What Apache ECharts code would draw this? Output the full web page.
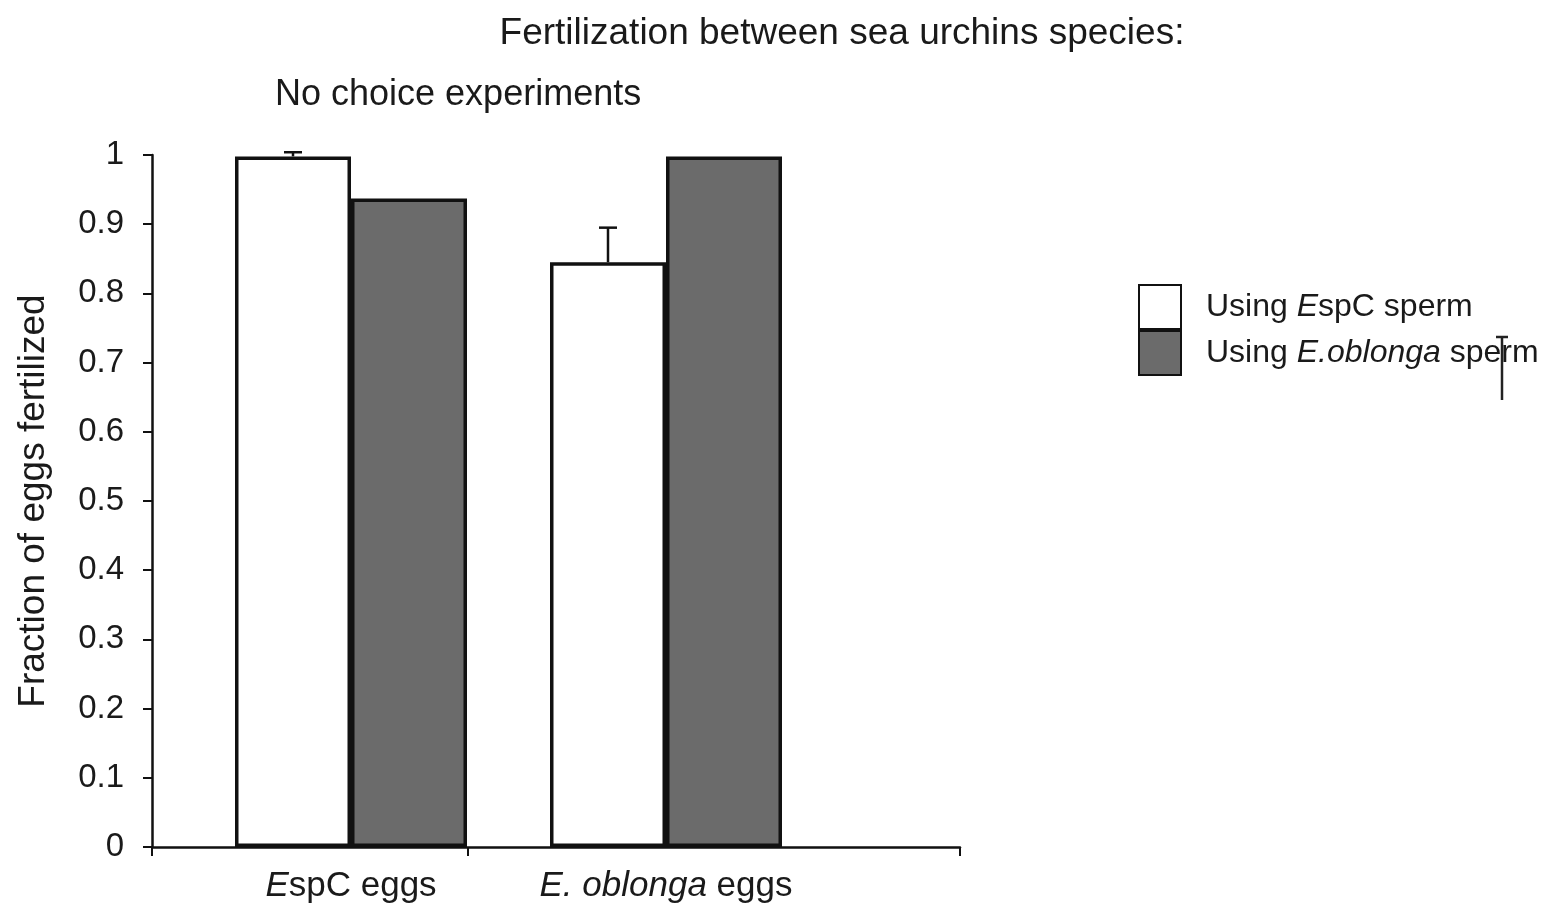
<!DOCTYPE html>
<html>
<head>
<meta charset="utf-8">
<script src="https://cdn.jsdelivr.net/npm/echarts@6/dist/echarts.min.js"></script>
<style>
html,body{margin:0;padding:0;background:#fff;}
#chart{width:1554px;height:919px;}
</style>
</head>
<body>
<div id="chart"></div>
<script>
// ---- data ----
const categories = ['EspC eggs', 'E. oblonga eggs'];
const seriesNames = ['Using EspC sperm', 'Using E.oblonga sperm'];
const espcSperm = [0.998, 0.845];
const oblongaSperm = [0.937, 0.998];
const espcSpermErr = [0.006, 0.05];
const oblongaSpermErr = [0, 0];
const yTicks = [0, 0.1, 0.2, 0.3, 0.4, 0.5, 0.6, 0.7, 0.8, 0.9, 1];

const FONT = 'Liberation Sans';
const TXT = '#1a1a1a';
const EDGE = '#111';
const DARK = '#6b6b6b';
const BAR_W = 116;

const chart = echarts.init(document.getElementById('chart'));

function errRender(offset) {
  return function (params, api) {
    const idx = api.value(0);
    const v = api.value(1);
    const e = api.value(2);
    if (!e) return null;
    const p0 = api.coord([idx, v]);
    const p1 = api.coord([idx, v + e]);
    const x = p0[0] + offset;
    const style = { stroke: EDGE, lineWidth: 2.5 };
    return {
      type: 'group',
      children: [
        { type: 'line', shape: { x1: x, y1: p0[1], x2: x, y2: p1[1] }, style },
        { type: 'line', shape: { x1: x - 9, y1: p1[1], x2: x + 9, y2: p1[1] }, style }
      ]
    };
  };
}

const labelRich = {
  n: { fontFamily: FONT, fontSize: 35, color: TXT },
  i: { fontFamily: FONT, fontSize: 35, color: TXT, fontStyle: 'italic' }
};
const legendRich = {
  n: { fontFamily: FONT, fontSize: 32, color: TXT },
  i: { fontFamily: FONT, fontSize: 32, color: TXT, fontStyle: 'italic' }
};

const option = {
  backgroundColor: '#fff',
  animation: false,
  title: [
    { text: 'Fertilization between sea urchins species:', left: 837, textAlign: 'center', top: 10,
      textStyle: { fontFamily: FONT, fontSize: 37, fontWeight: 'normal', color: TXT } },
    { text: 'No choice experiments', left: 270, top: 72,
      textStyle: { fontFamily: FONT, fontSize: 36, fontWeight: 'normal', color: TXT } }
  ],
  legend: {
    orient: 'vertical', left: 1133, top: 279, itemWidth: 42, itemHeight: 44, itemGap: 0,
    icon: 'rect', selectedMode: false,
    data: seriesNames,
    formatter: function (name) {
      if (name === seriesNames[0]) return '{n|Using }{i|E}{n|spC sperm}';
      return '{n|Using }{i|E.oblonga}{n| sperm}';
    },
    textStyle: { padding: [0, 0, 0, 20], rich: legendRich }
  },
  grid: [
    { left: 152, top: 155, width: 808, height: 692 },
    { left: 193.5, top: 155, width: 630, height: 692 }
  ],
  xAxis: [
    { gridIndex: 0, type: 'value', min: 0, max: 1,
      axisLine: { show: true, lineStyle: { color: EDGE, width: 2.5 } },
      axisTick: { show: true, length: 9, customValues: [0, 0.391, 1], lineStyle: { color: EDGE, width: 2 } },
      axisLabel: { show: false }, splitLine: { show: false } },
    { gridIndex: 1, type: 'category', data: categories,
      axisLine: { show: false }, axisTick: { show: false },
      axisLabel: { margin: 22,
        formatter: function (v) {
          if (v === categories[0]) return '{i|E}{n|spC eggs}';
          return '{i|E. oblonga}{n| eggs}';
        },
        rich: labelRich } }
  ],
  yAxis: [
    { gridIndex: 0, type: 'value', min: 0, max: 1, interval: 0.1,
      axisLine: { show: true, lineStyle: { color: EDGE, width: 2.5 } },
      axisTick: { show: true, length: 9, lineStyle: { color: EDGE, width: 2 } },
      axisLabel: { margin: 28, fontFamily: FONT, fontSize: 33, color: TXT,
        formatter: function (v) { return String(Math.round(v * 10) / 10); } },
      splitLine: { show: false },
      name: 'Fraction of eggs fertilized', nameLocation: 'middle', nameGap: 100, nameRotate: 90,
      nameTextStyle: { fontFamily: FONT, fontSize: 37, color: TXT } },
    { gridIndex: 1, type: 'value', min: 0, max: 1, show: false }
  ],
  graphic: [
    { type: 'group', children: [
      { type: 'line', shape: { x1: 1502, y1: 337, x2: 1502, y2: 400 }, style: { stroke: '#222', lineWidth: 2.5 } },
      { type: 'line', shape: { x1: 1496, y1: 337, x2: 1508, y2: 337 }, style: { stroke: '#222', lineWidth: 2.5 } }
    ] }
  ],
  series: [
    { name: seriesNames[0], type: 'bar', xAxisIndex: 1, yAxisIndex: 1, data: espcSperm,
      barWidth: BAR_W, barGap: '0%',
      itemStyle: { color: '#ffffff', borderColor: EDGE, borderWidth: 3.5 } },
    { name: seriesNames[1], type: 'bar', xAxisIndex: 1, yAxisIndex: 1, data: oblongaSperm,
      barWidth: BAR_W, barGap: '0%',
      itemStyle: { color: DARK, borderColor: EDGE, borderWidth: 3.5 } },
    { type: 'custom', xAxisIndex: 1, yAxisIndex: 1, z: 5,
      renderItem: errRender(-BAR_W / 2),
      data: categories.map((c, i) => [i, espcSperm[i], espcSpermErr[i]]) },
    { type: 'custom', xAxisIndex: 1, yAxisIndex: 1, z: 5,
      renderItem: errRender(BAR_W / 2),
      data: categories.map((c, i) => [i, oblongaSperm[i], oblongaSpermErr[i]]) }
  ]
};
chart.setOption(option);
</script>
</body>
</html>
